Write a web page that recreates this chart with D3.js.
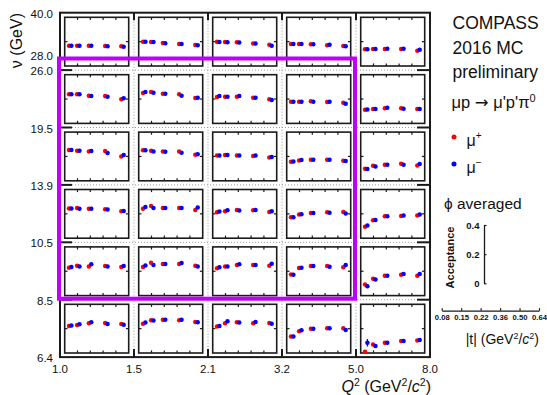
<!DOCTYPE html>
<html><head><meta charset="utf-8">
<script src="https://cdn.jsdelivr.net/npm/d3@7"></script>
<style>
html,body{margin:0;padding:0;background:#fff;}
svg{display:block;font-family:"Liberation Sans",Arial,Helvetica,sans-serif;}
</style></head><body>
<svg id="chart" width="547" height="395"></svg>
<script>
// Q^2 bin edges (columns) and nu bins (rows, top to bottom)
const q2Edges = ["1.0","1.5","2.1","3.2","5.0","8.0"];
const nuRows = [[28.0,40.0],[19.5,26.0],[13.9,19.5],[10.5,13.9],[8.5,10.5],[6.4,8.5]];
// |t| bins and the mean |t| of each bin
const tEdges = ["0.08","0.15","0.22","0.36","0.50","0.64"];
const tMean = [0.112,0.181,0.282,0.421,0.559];

// acceptance [nu row][Q2 column][t bin]
const accMuPlus = [
 [[0.167,0.167,0.167,0.164,0.162],[0.200,0.197,0.189,0.181,0.172],[0.200,0.197,0.195,0.184,0.175],[0.181,0.181,0.178,0.170,0.164],[0.137,0.140,0.140,0.140,0.126]],
 [[0.239,0.239,0.228,0.225,0.198],[0.250,0.258,0.244,0.239,0.208],[0.217,0.219,0.219,0.211,0.198],[0.178,0.178,0.181,0.176,0.170],[0.113,0.118,0.124,0.124,0.118]],
 [[0.252,0.247,0.241,0.244,0.200],[0.250,0.247,0.241,0.241,0.214],[0.208,0.211,0.208,0.203,0.192],[0.156,0.167,0.173,0.173,0.165],[0.099,0.124,0.132,0.140,0.126]],
 [[0.243,0.249,0.241,0.238,0.221],[0.241,0.265,0.249,0.249,0.232],[0.213,0.221,0.232,0.230,0.216],[0.172,0.194,0.208,0.213,0.216],[0.095,0.147,0.180,0.183,0.186]],
 [[0.229,0.246,0.240,0.243,0.235],[0.235,0.270,0.259,0.259,0.246],[0.224,0.240,0.251,0.251,0.246],[0.174,0.226,0.243,0.243,0.232],[0.092,0.139,0.163,0.172,0.163]],
 [[0.222,0.230,0.244,0.247,0.239],[0.241,0.269,0.274,0.269,0.255],[0.217,0.244,0.252,0.244,0.247],[0.135,0.178,0.200,0.203,0.203],[0.010,0.069,0.085,0.099,0.102]]
];
const accMuMinus = [
 [[0.167,0.167,0.167,0.162,0.159],[0.200,0.197,0.186,0.181,0.170],[0.197,0.195,0.192,0.184,0.167],[0.181,0.181,0.178,0.175,0.162],[0.137,0.140,0.142,0.142,0.134]],
 [[0.239,0.239,0.225,0.219,0.206],[0.258,0.252,0.244,0.228,0.211],[0.225,0.219,0.225,0.211,0.192],[0.178,0.178,0.178,0.178,0.162],[0.115,0.118,0.129,0.121,0.118]],
 [[0.252,0.247,0.244,0.228,0.211],[0.250,0.241,0.239,0.230,0.219],[0.208,0.211,0.208,0.208,0.195],[0.159,0.170,0.173,0.173,0.162],[0.096,0.118,0.132,0.132,0.137]],
 [[0.243,0.241,0.241,0.235,0.224],[0.257,0.249,0.249,0.249,0.252],[0.219,0.230,0.227,0.232,0.221],[0.172,0.197,0.208,0.210,0.202],[0.104,0.150,0.180,0.186,0.194]],
 [[0.235,0.240,0.257,0.240,0.243],[0.248,0.251,0.259,0.268,0.240],[0.232,0.240,0.257,0.251,0.262],[0.172,0.229,0.243,0.237,0.251],[0.076,0.133,0.163,0.177,0.177]],
 [[0.225,0.236,0.252,0.239,0.233],[0.250,0.266,0.274,0.274,0.252],[0.222,0.261,0.250,0.255,0.241],[0.135,0.187,0.200,0.203,0.189],[0.085,0.058,0.085,0.099,0.107]]
];
// statistical errors large enough to show
const largeErrors = [{row:5, col:4, bin:0, charge:"minus", err:0.031}];
const accTicks = [0, 0.2, 0.4];

const svg = d3.select("#chart");
const INK = "#1a1a1a";
const RED = "#ff0000", BLUE = "#0000ff", VIOLET = "#bf00ff";

// grid of pads
const gridL = 60, gridR = 430, gridT = 12.7, gridB = 357.1;
const xCol = d3.scaleLinear().domain([0, q2Edges.length - 1]).range([gridL, gridR]);
const yRow = d3.scaleLinear().domain([0, nuRows.length]).range([gridT, gridB]);
const fmt1 = d3.format(".1f");

// dotted separators between pads
const sep = svg.append("g").attr("stroke", "#9a9a9a").attr("stroke-width", 1).attr("stroke-dasharray", "1,2");
d3.range(1, q2Edges.length - 1).forEach(i => {
  sep.append("line").attr("x1", xCol(i)).attr("x2", xCol(i)).attr("y1", gridT).attr("y2", gridB);
});
d3.range(1, nuRows.length).forEach(i => {
  sep.append("line").attr("x1", gridL).attr("x2", gridR).attr("y1", yRow(i)).attr("y2", yRow(i));
});

// one small acceptance-vs-|t| panel per (nu, Q2) bin
const tDom = [0.065, 0.612];
nuRows.forEach((nu, r) => {
  d3.range(q2Edges.length - 1).forEach(c => {
    const fx0 = xCol(c) + 4.7, fx1 = xCol(c) + 68.7;
    const fy0 = yRow(r) + 4.6, fy1 = yRow(r) + 53.3;
    const px = d3.scaleLinear().domain(tDom).range([fx0, fx1]);
    const py = d3.scaleLinear().domain([0, 0.4]).range([fy1, fy0]);
    const g = svg.append("g");
    g.append("rect").attr("x", fx0).attr("y", fy0).attr("width", fx1 - fx0).attr("height", fy1 - fy0)
      .attr("fill", "none").attr("stroke", INK).attr("stroke-width", 1.6);
    const tk = d3.range(1, 5).map(i => tDom[0] + i * (tDom[1] - tDom[0]) / 5);
    tk.forEach(t => {
      g.append("line").attr("x1", px(t)).attr("x2", px(t)).attr("y1", fy0).attr("y2", fy0 + 2.6).attr("stroke", INK).attr("stroke-width", 1.2);
      g.append("line").attr("x1", px(t)).attr("x2", px(t)).attr("y1", fy1).attr("y2", fy1 - 2.6).attr("stroke", INK).attr("stroke-width", 1.2);
    });
    g.append("line").attr("x1", fx0).attr("x2", fx0 + 2.8).attr("y1", py(0.2)).attr("y2", py(0.2)).attr("stroke", INK).attr("stroke-width", 1.2);
    g.append("line").attr("x1", fx1).attr("x2", fx1 - 2.8).attr("y1", py(0.2)).attr("y2", py(0.2)).attr("stroke", INK).attr("stroke-width", 1.2);

    const series = [
      {name: "plus", vals: accMuPlus[r][c], color: RED, dx: -1.2},
      {name: "minus", vals: accMuMinus[r][c], color: BLUE, dx: 1.2}
    ];
    series.forEach(s => {
      largeErrors.filter(e => e.row === r && e.col === c && e.charge === s.name).forEach(e => {
        g.append("line").attr("x1", px(tMean[e.bin]) + s.dx).attr("x2", px(tMean[e.bin]) + s.dx)
          .attr("y1", py(s.vals[e.bin] - e.err)).attr("y2", py(s.vals[e.bin] + e.err))
          .attr("stroke", s.color).attr("stroke-width", 1.2);
      });
      g.selectAll(null).data(s.vals).enter().append("circle")
        .attr("cx", (v, i) => px(tMean[i]) + s.dx)
        .attr("cy", v => py(v))
        .attr("r", 2.25)
        .attr("fill", s.color);
    });
  });
});

// outer frame with ticks at bin boundaries
const fr = svg.append("g").attr("stroke", INK).attr("stroke-width", 2).attr("fill", "none");
fr.append("rect").attr("x", gridL).attr("y", gridT).attr("width", gridR - gridL).attr("height", gridB - gridT);
d3.range(1, q2Edges.length - 1).forEach(i => {
  fr.append("line").attr("x1", xCol(i)).attr("x2", xCol(i)).attr("y1", gridT).attr("y2", gridT + 7.5);
  fr.append("line").attr("x1", xCol(i)).attr("x2", xCol(i)).attr("y1", gridB).attr("y2", gridB - 8);
});
d3.range(1, nuRows.length).forEach(i => {
  fr.append("line").attr("x1", gridL).attr("x2", gridL + 12).attr("y1", yRow(i)).attr("y2", yRow(i));
  fr.append("line").attr("x1", gridR).attr("x2", gridR - 13).attr("y1", yRow(i)).attr("y2", yRow(i));
});

// Q2 labels
const lab = svg.append("g").attr("fill", "#111").attr("font-size", "11.5px");
q2Edges.forEach((q, i) => {
  lab.append("text").attr("x", xCol(i)).attr("y", 373).attr("text-anchor", "middle").text(q);
});
// nu labels: upper edge of each row, lower edge of the bottom row, and the lower edge of the separate top row
nuRows.forEach((nu, r) => {
  lab.append("text").attr("x", 53).attr("y", yRow(r) + 1).attr("dy", "0.35em").attr("text-anchor", "end").text(fmt1(nu[1]));
});
lab.append("text").attr("x", 53).attr("y", yRow(nuRows.length) + 1).attr("dy", "0.35em").attr("text-anchor", "end").text(fmt1(nuRows[nuRows.length - 1][0]));
const top28 = yRow(1) - 11.6;
lab.append("text").attr("x", 53).attr("y", top28 - 3).attr("dy", "0.35em").attr("text-anchor", "end").text(fmt1(nuRows[0][0]));

// highlighted region: nu 8.5–28, Q2 1.0–5.0
svg.append("rect").attr("x", xCol(0) - 1).attr("y", top28)
  .attr("width", xCol(4) - xCol(0)).attr("height", yRow(5) - 1 - top28)
  .attr("fill", "none").attr("stroke", VIOLET).attr("stroke-width", 4);

// rich text helper: segments {t, sup, it, font}; shifts are in px so they cancel exactly
function rich(sel, segs, supSize, shift) {
  let up = false;
  segs.forEach(s => {
    const ts = sel.append("tspan").text(s.t);
    if (s.it) ts.attr("font-style", "italic");
    if (s.font) ts.attr("font-family", s.font);
    if (s.sup) {
      ts.attr("font-size", supSize);
      if (!up) { ts.attr("dy", -shift); up = true; }
    } else if (up) {
      ts.attr("dy", shift); up = false;
    }
  });
  return sel;
}

// axis titles
svg.append("text").attr("transform", "translate(22,13) rotate(-90)").attr("text-anchor", "end")
  .attr("font-size", "16px").attr("fill", "#111").text("ν (GeV)");
rich(svg.append("text").attr("x", 431).attr("y", 392).attr("text-anchor", "end").attr("font-size", "16px").attr("fill", "#111"),
  [{t: "Q", it: true}, {t: "2", sup: true}, {t: " (GeV"}, {t: "2", sup: true}, {t: "/"}, {t: "c", it: true}, {t: "2", sup: true}, {t: ")"}], "10.5px", 6.5);

// labels on the right
const side = svg.append("g").attr("fill", "#111");
side.append("text").attr("x", 452.5).attr("y", 29.3).attr("font-size", "17.5px").text("COMPASS");
side.append("text").attr("x", 452.5).attr("y", 54.3).attr("font-size", "17.5px").text("2016 MC");
side.append("text").attr("x", 452.5).attr("y", 78.3).attr("font-size", "17.5px").text("preliminary");
rich(side.append("text").attr("x", 451.5).attr("y", 108.3).attr("font-size", "16.5px"),
  [{t: "μp "}, {t: "→", font: "'DejaVu Sans',sans-serif"}, {t: " μ'p'π"}, {t: "0", sup: true}], "11px", 6.5);

// charge legend
const legendItems = [{label: "+", color: RED, y: 137}, {label: "−", color: BLUE, y: 164}];
legendItems.forEach(d => {
  side.append("circle").attr("cx", 454).attr("cy", d.y).attr("r", 2.5).attr("fill", d.color);
  rich(side.append("text").attr("x", 466.5).attr("y", d.y + 8.5).attr("font-size", "16px"),
    [{t: "μ"}, {t: d.label, sup: true}], "10px", 7);
});

side.append("text").attr("x", 444).attr("y", 209.3).attr("font-size", "15.5px").text("ϕ averaged");

// acceptance scale key
side.append("text").attr("transform", "translate(454,257.5) rotate(-90)").attr("text-anchor", "middle")
  .attr("font-size", "11px").attr("font-weight", "bold").text("Acceptance");
const accKey = d3.scaleLinear().domain([0, 0.4]).range([283.3, 225]);
const accAxis = svg.append("g").attr("transform", "translate(484,0)")
  .call(d3.axisLeft(accKey).tickValues(accTicks).tickSizeInner(-2.5).tickSizeOuter(0).tickPadding(4.5)
    .tickFormat(d => d === 0 ? "0" : d3.format(".1f")(d)));
accAxis.select(".domain").attr("stroke", INK).attr("stroke-width", 1.3);
accAxis.selectAll(".tick line").attr("stroke", INK).attr("stroke-width", 1.2);
accAxis.selectAll("text").attr("font-size", "9.5px").attr("font-weight", "bold").attr("fill", "#111")
  .attr("font-family", "'Liberation Sans',Arial,sans-serif");

// |t| scale key
const tKey = d3.scalePoint().domain(tEdges).range([441.7, 539]);
const tAxis = svg.append("g").attr("transform", "translate(0,310.7)")
  .call(d3.axisBottom(tKey).tickSizeInner(-2.5).tickSizeOuter(0).tickPadding(4));
tAxis.select(".domain").attr("stroke", INK).attr("stroke-width", 1.3);
tAxis.selectAll(".tick line").attr("stroke", INK).attr("stroke-width", 1.2);
tAxis.selectAll("text").attr("font-size", "7.7px").attr("font-weight", "bold").attr("fill", "#111")
  .attr("font-family", "'Liberation Sans',Arial,sans-serif");

rich(side.append("text").attr("x", 539).attr("y", 344).attr("text-anchor", "end").attr("font-size", "14px"),
  [{t: "|t| (GeV"}, {t: "2", sup: true}, {t: "/"}, {t: "c", it: true}, {t: "2", sup: true}, {t: ")"}], "9px", 5.5);
</script>
</body></html>
